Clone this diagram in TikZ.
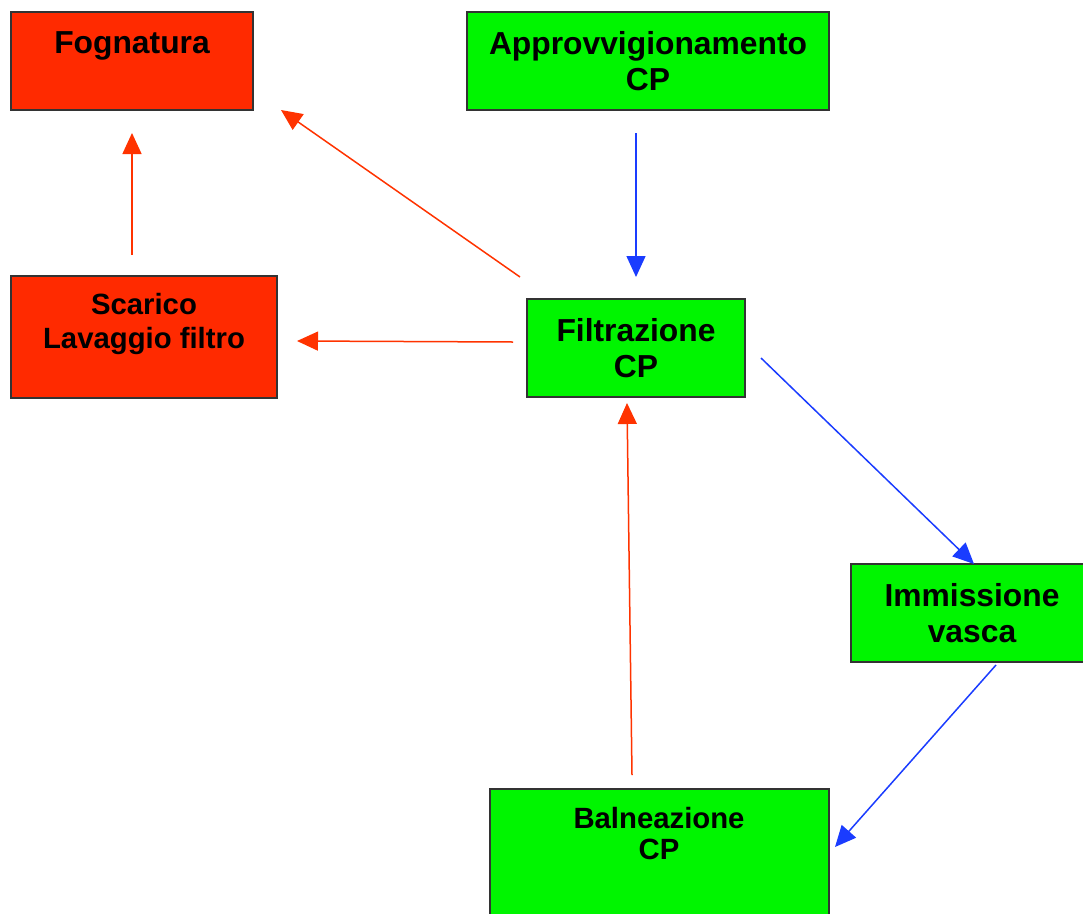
\documentclass[tikz,border=0pt]{standalone}
\usepackage{fontspec}
\setmainfont{Liberation Sans}
\usetikzlibrary{arrows.meta}
\definecolor{boxred}{HTML}{FF2A00}
\definecolor{boxgreen}{HTML}{00F500}
\definecolor{linered}{HTML}{FF3300}
\definecolor{lineblue}{HTML}{1A3CFF}
\tikzset{
  boxshape/.style={draw=black!80, line width=1.2pt},
  lbl/.style={font=\bfseries\fontsize{31.8}{35.5}\selectfont, align=center, inner sep=0pt},
  redarrow/.style={draw=linered, line width=1.5pt, -{Triangle[length=21pt,width=19pt]}},
  bluearrow/.style={draw=lineblue, line width=1.5pt, -{Triangle[length=21pt,width=19pt]}}
}
\begin{document}
\begin{tikzpicture}[x=1pt,y=-1pt]
\useasboundingbox (0,0) rectangle (1083,913);
\clip (0,0) rectangle (1083,913);
% boxes
\path[boxshape, fill=boxred] (11,12) rectangle (253,110);
\path[boxshape, fill=boxgreen] (467,12) rectangle (829,110);
\path[boxshape, fill=boxred] (11,276) rectangle (277,398);
\path[boxshape, fill=boxgreen] (527,299) rectangle (745,397);
\path[boxshape, fill=boxgreen] (851,564) rectangle (1090,662);
\path[boxshape, fill=boxgreen] (490,789) rectangle (829,920);
% labels
\node[lbl] (fog) at (132,46) {Fognatura};
\node[lbl] (app) at (648,61) {Approvvigionamento\\CP};
\node[lbl, font=\bfseries\fontsize{29.3}{34}\selectfont] (sca) at (144,324) {Scarico\\Lavaggio filtro};
\node[lbl] (fil) at (636,348) {Filtrazione\\CP};
\node[lbl] (imm) at (972,613) {Immissione\\vasca};
\node[lbl, font=\bfseries\fontsize{29.3}{31}\selectfont] (bal) at (659,834) {Balneazione\\CP};
% connector end points
\coordinate (filNW) at (520,277);
\coordinate (fogSE) at (281,110);
\coordinate (scaN) at (132,255);
\coordinate (fogS) at (132,133);
\coordinate (filW) at (513,342);
\coordinate (scaE) at (297,341);
\coordinate (appS) at (636,133);
\coordinate (filN) at (636,277);
\coordinate (filE) at (761,358);
\coordinate (immN) at (974,564);
\coordinate (immS) at (996,665);
\coordinate (balE) at (835,847);
\coordinate (balN) at (632,775);
\coordinate (filS) at (627,403);
% connectors
\draw[redarrow] (filNW) -- (fogSE);
\draw[redarrow] (scaN) -- (fogS);
\draw[redarrow] (filW) -- (scaE);
\draw[bluearrow] (appS) -- (filN);
\draw[bluearrow] (filE) -- (immN);
\draw[bluearrow] (immS) -- (balE);
\draw[redarrow] (balN) -- (filS);
\end{tikzpicture}
\end{document}
